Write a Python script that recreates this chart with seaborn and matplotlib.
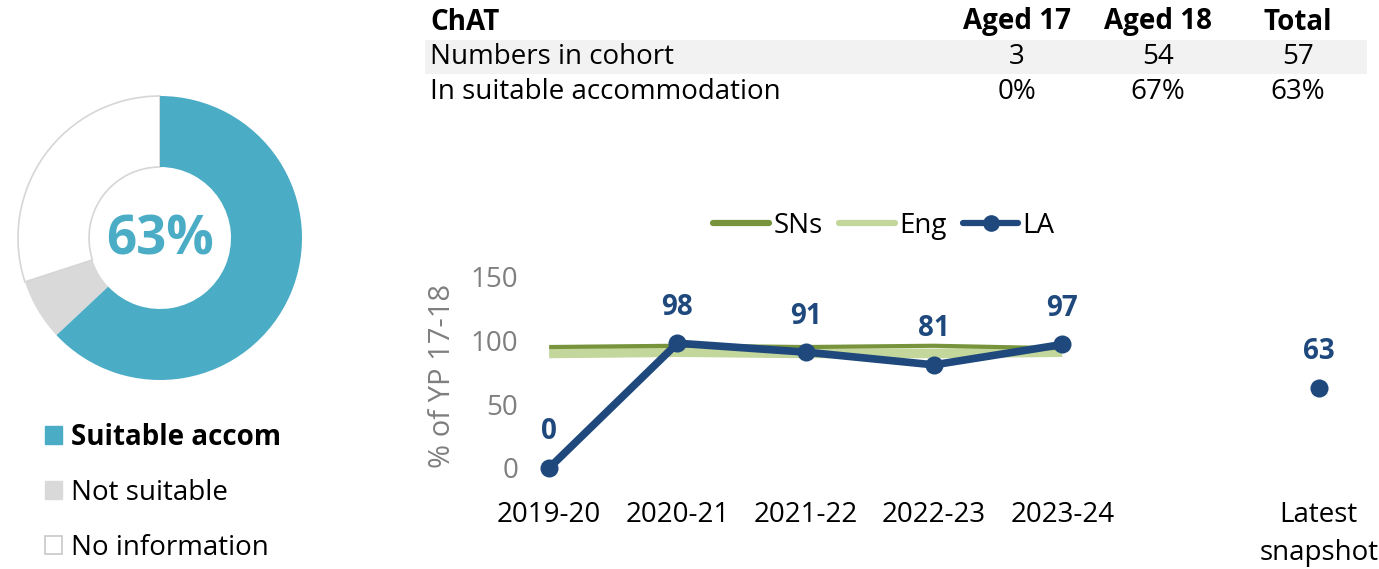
import matplotlib
matplotlib.use("Agg")
import matplotlib.pyplot as plt
from matplotlib.patches import Patch, Rectangle
from matplotlib.lines import Line2D
import pandas as pd
import seaborn as sns

# ---- data -------------------------------------------------------------
years = ["2019-20", "2020-21", "2021-22", "2022-23", "2023-24"]
la_values = [0, 98, 91, 81, 97]
sn_values = [95, 96, 95, 96, 94]
eng_values = [90, 91, 90, 90, 91]
latest_label = "Latest\nsnapshot"
latest_value = 63

donut_labels = ["Suitable accom", "Not suitable", "No information"]
donut_values = [63, 7, 30]
donut_centre = "63%"

table_header = ["ChAT", "Aged 17", "Aged 18", "Total"]
table_rows = [
    ["Numbers in cohort", "3", "54", "57"],
    ["In suitable accommodation", "0%", "67%", "63%"],
]

# ---- style ------------------------------------------------------------
sns.set_theme(style="white")
plt.rcParams["font.family"] = ["Open Sans", "DejaVu Sans"]
plt.rcParams["text.color"] = "black"

TEAL = "#4BACC6"
GREY = "#D9D9D9"
NAVY = "#1F497D"
SN_GREEN = "#77933C"
ENG_GREEN = "#C3D69B"
AXIS_GREY = "#7F7F7F"
FS = 20

W, H = 1379, 569
fig = plt.figure(figsize=(W / 100, H / 100), dpi=100)


def fx(x):
    return x / W


def fy(y):
    return 1 - y / H


# ---- donut ------------------------------------------------------------
ax_d = fig.add_axes([fx(10), fy(388), 300 / W, 300 / H])
wedges, _ = ax_d.pie(
    donut_values,
    colors=[TEAL, GREY, "white"],
    startangle=90,
    counterclock=False,
    radius=1.0,
    wedgeprops=dict(width=0.5, linewidth=0),
)
wedges[2].set_edgecolor("#D6D6D6")
wedges[2].set_linewidth(1.2)
wedges[0].set_zorder(3)
lim = 150 / 142
ax_d.set_xlim(-lim, lim)
ax_d.set_ylim(-lim, lim)
ax_d.set_aspect("equal")
ax_d.axis("off")
ax_d.text(0, -0.02, donut_centre, ha="center", va="center", fontsize=38,
          fontweight="bold", color=TEAL)

handles = [
    Patch(facecolor=TEAL, edgecolor=TEAL),
    Patch(facecolor=GREY, edgecolor=GREY),
    Patch(facecolor="white", edgecolor="#C8C8C8", linewidth=1.2),
]
leg_d = fig.legend(handles, donut_labels, loc="upper left",
                   bbox_to_anchor=(fx(20), fy(398)), frameon=False,
                   fontsize=FS, handlelength=0.6, handleheight=0.6,
                   handletextpad=0.32, labelspacing=0.97, labelcolor="black")
leg_d.get_texts()[0].set_fontweight("bold")

# ---- table ------------------------------------------------------------
fig.patches.append(Rectangle((fx(425), fy(74)), (1367 - 425) / W, 34 / H,
                             transform=fig.transFigure, facecolor="#F2F2F2",
                             edgecolor="none", zorder=0))
col_x = [430, 1017, 1158, 1298]
row_y = [22, 57, 92]
for j, txt in enumerate(table_header):
    fig.text(fx(col_x[j]), fy(row_y[0]), txt, ha="left" if j == 0 else "center",
             va="center", fontsize=FS, fontweight="bold", color="black")
for i, row in enumerate(table_rows):
    for j, txt in enumerate(row):
        fig.text(fx(col_x[j]), fy(row_y[i + 1]), txt,
                 ha="left" if j == 0 else "center", va="center",
                 fontsize=FS, color="black")

# ---- line chart -------------------------------------------------------
ax = fig.add_axes([fx(528), fy(468), (1379 - 528) / W, 191 / H])
pos = list(range(len(years)))
df = pd.DataFrame({"pos": pos, "LA": la_values, "SNs": sn_values, "Eng": eng_values})

sns.lineplot(data=df, x="pos", y="Eng", ax=ax, color=ENG_GREEN, linewidth=7,
             solid_capstyle="butt", zorder=2)
sns.lineplot(data=df, x="pos", y="SNs", ax=ax, color=SN_GREEN, linewidth=3,
             solid_capstyle="butt", zorder=3)
sns.lineplot(data=df, x="pos", y="LA", ax=ax, color=NAVY, linewidth=5.5,
             marker="o", markersize=13, markeredgewidth=0, zorder=4, clip_on=False)

latest_pos = len(years) + 1
sns.scatterplot(x=[latest_pos], y=[latest_value], ax=ax, color=NAVY, s=170,
                linewidth=0, zorder=4, clip_on=False)

for p, v in zip(pos, la_values):
    ax.annotate(str(v), (p, v), xytext=(0, 26), textcoords="offset points",
                ha="center", va="center", fontsize=FS, fontweight="bold", color=NAVY)
ax.annotate(str(latest_value), (latest_pos, latest_value), xytext=(0, 26),
            textcoords="offset points", ha="center", va="center",
            fontsize=FS, fontweight="bold", color=NAVY)

ax.set_xlim(-0.165, 6.47)
ax.set_ylim(0, 150)
ax.set_yticks([0, 50, 100, 150])
ax.set_xticks(pos + [latest_pos])
ax.set_xticklabels(years + [latest_label])
ax.tick_params(axis="y", labelsize=FS, labelcolor=AXIS_GREY, pad=7, length=0)
ax.tick_params(axis="x", labelsize=FS, labelcolor="black", pad=24, length=0)
for lab in ax.get_xticklabels():
    lab.set_linespacing(1.45)
ax.set_xlabel("")
ax.set_ylabel("% of YP 17-18", fontsize=21, color=AXIS_GREY)
ax.yaxis.set_label_coords(-0.083, 0.48)
for s in ax.spines.values():
    s.set_visible(False)
ax.grid(False)
ax.patch.set_alpha(0)

leg_handles = [
    Line2D([], [], color=SN_GREEN, linewidth=4.5, solid_capstyle="round"),
    Line2D([], [], color=ENG_GREEN, linewidth=4.5, solid_capstyle="round"),
    Line2D([], [], color=NAVY, linewidth=4.5, marker="o", markersize=12,
           markeredgewidth=0, solid_capstyle="round"),
]
fig.legend(leg_handles, ["SNs", "Eng", "LA"], loc="center",
           bbox_to_anchor=(fx(884), fy(226)), ncol=3, frameon=False,
           fontsize=FS, handlelength=2.0, handletextpad=0.15, columnspacing=0.6,
           labelcolor="black")

fig.savefig("out.png", dpi=100)
